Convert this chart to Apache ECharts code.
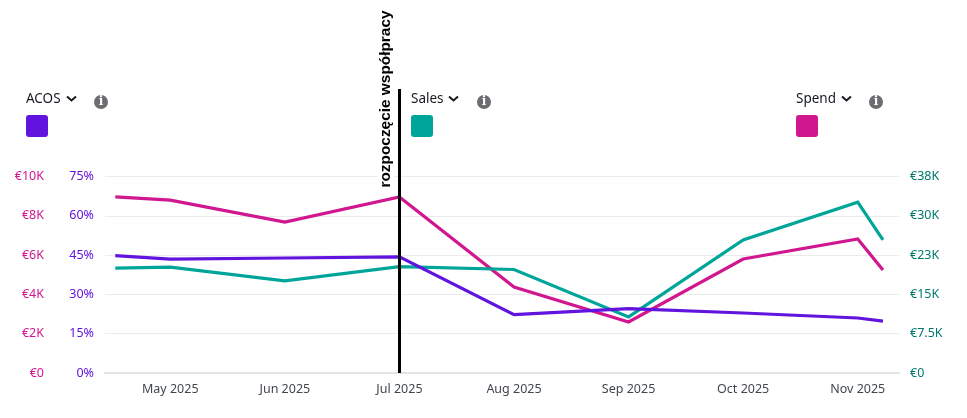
<!DOCTYPE html>
<html><head><meta charset="utf-8">
<style>html,body{margin:0;padding:0;background:#fff}#c{width:967px;height:418px}</style>
<script src="https://cdn.jsdelivr.net/npm/echarts@6/dist/echarts.min.js"></script>
</head><body><div id="c"></div>
<script>
const months = ['May 2025','Jun 2025','Jul 2025','Aug 2025','Sep 2025','Oct 2025','Nov 2025'];
const monthPos = [-0.48,0,1,2,3,4,5,6,6.22];
const acos = [44.8,43.5,43.9,44.3,22.3,24.6,22.9,21,19.8];
const sales = [20,20.2,17.6,20.3,19.75,10.7,25.4,32.6,25.4];
const spend = [8.96,8.8,7.68,8.96,4.38,2.6,5.8,6.82,5.24];
const salesTicks = ['€0','€7.5K','€15K','€23K','€30K','€38K'];
const startMonth = 2;
const noteText = 'rozpoczęcie współpracy';
const keys = [
  {name:'ACOS',color:'#6114de',x:26,cx:67,ix:101},
  {name:'Sales',color:'#00a59a',x:411,cx:449,ix:484},
  {name:'Spend',color:'#d1178f',x:796,cx:842,ix:876}
];
const FONT='"Noto Sans"';
const pair=(v)=>v.map((y,i)=>[monthPos[i],y]);
const graphic=[];
keys.forEach(k=>{
  graphic.push({type:'text',x:k.x,y:99,style:{text:k.name,fill:'#16191f',font:'13.5px '+FONT,textVerticalAlign:'middle'}});
  graphic.push({type:'polyline',shape:{points:[[k.cx,96.5],[k.cx+4.5,100.5],[k.cx+9,96.5]]},style:{stroke:'#16191f',lineWidth:2,fill:null}});
  graphic.push({type:'circle',shape:{cx:k.ix,cy:102,r:7},style:{fill:'#6b6d70'}});
  graphic.push({type:'text',x:k.ix,y:102,style:{text:'i',fill:'#fff',font:'bold 12px "DejaVu Serif"',textAlign:'center',textVerticalAlign:'middle'}});
  graphic.push({type:'rect',shape:{x:k.x,y:115,width:22,height:22,r:3},style:{fill:k.color}});
});
graphic.push({type:'text',x:386,y:99,rotation:Math.PI/2,z:20,style:{text:noteText,fill:'#000',backgroundColor:'#fff',padding:[1,1,1,1],font:'bold 15.4px "Liberation Sans"',textAlign:'center',textVerticalAlign:'middle'}});
const line=(name,data,color,yi,extra)=>Object.assign({type:'line',name,data:pair(data),yAxisIndex:yi,showSymbol:false,symbol:'none',silent:true,animation:false,
  lineStyle:{color,width:3.2,join:'miter'},itemStyle:{color}},extra||{});
const yAxis=(pos,offset,max,interval,color,fmt,show)=>({type:'value',position:pos,offset,min:0,max,interval,
  axisLine:{show:false},axisTick:{show:false},splitLine:{show:!!show,lineStyle:{color:'#ebebeb',width:1}},
  axisLabel:{color,fontFamily:FONT,fontSize:12.5,margin:11,padding:[4,0,0,0],formatter:fmt}});
echarts.init(document.getElementById('c'),null,{renderer:'canvas'}).setOption({
  animation:false,backgroundColor:'#fff',
  grid:{left:105,right:68,top:176.5,bottom:45,containLabel:false},
  xAxis:{type:'value',min:-0.5696,max:6.36,splitLine:{show:false},axisTick:{show:false},
    axisLine:{show:true,onZero:false,lineStyle:{color:'#e3e3e3',width:2}},
    axisLabel:{color:'#414750',fontFamily:FONT,fontSize:12.5,margin:10,showMinLabel:true,showMaxLabel:true,hideOverlap:false,
      customValues:[0,1,2,3,4,5,6],formatter:v=>months[Math.round(v)]}},
  yAxis:[
    yAxis('left',0,75,15,'#6114de',v=>v+'%',true),
    yAxis('left',50,10,2,'#d1178f',v=>v===0?'€0':'€'+v+'K'),
    yAxis('right',0,37.5,7.5,'#00786f',v=>salesTicks[Math.round(v/7.5)])
  ],
  series:[
    line('Spend',spend,'#d1178f',1),
    line('Sales',sales,'#00a59a',2),
    line('ACOS',acos,'#6114de',0,{markLine:{silent:true,symbol:'none',animation:false,label:{show:false},
      lineStyle:{color:'#000',width:3,type:'solid'},
      data:[[{xAxis:startMonth,y:89},{xAxis:startMonth,yAxis:0}]]}})
  ],
  graphic
});
</script></body></html>
